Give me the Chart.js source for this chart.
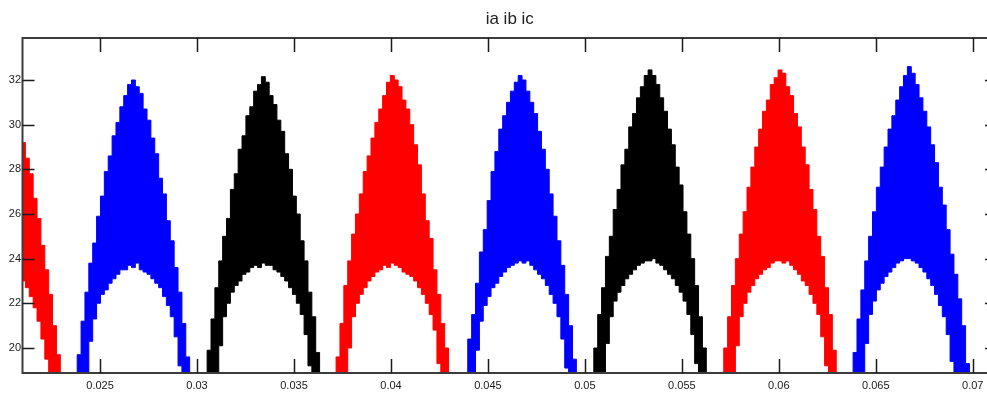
<!DOCTYPE html>
<html>
<head>
<meta charset="utf-8">
<script src="https://cdn.jsdelivr.net/npm/chart.js@4.4.1/dist/chart.umd.min.js"></script>
<style>
  html, body { margin: 0; padding: 0; overflow: hidden; background: #fff; }
  canvas { display: block; }
</style>
</head>
<body>
<canvas id="chart" width="1000" height="394"></canvas>
<script>
// tooth positions relative to the centre of each current lobe (s)
const toothOffsets = [
  -0.0032, -0.0030, -0.0028, -0.0026, -0.0024, -0.0022, -0.0020, -0.0018,
  -0.0016, -0.0014, -0.0012, -0.0010, -0.0008, -0.0006, -0.0004, -0.0002,
  0,
  0.0002, 0.0004, 0.0006, 0.0008, 0.0010, 0.0012, 0.0014, 0.0016,
  0.0018, 0.0020, 0.0022, 0.0024, 0.0026, 0.0028, 0.0030, 0.0032
];

const lobeCentres = [0.02005, 0.02672, 0.03342, 0.04007, 0.04666, 0.05336, 0.06006, 0.06673];
const lobePhase = [0, 1, 2, 0, 1, 2, 0, 1];
const phaseNames = ['ia', 'ib', 'ic'];
const phaseColours = ['#ff0000', '#0000ff', '#000000'];

const xTicks = [0.025, 0.03, 0.035, 0.04, 0.045, 0.05, 0.055, 0.06, 0.065, 0.07];
const yTicks = [20, 22, 24, 26, 28, 30, 32];

// ripple peaks (top edge of each lobe); first lobe only partly visible
const upperValues = [
  [29.8, 29.2, 28.5, 27.8, 26.7, 25.8, 24.6, 23.5, 22.4, 21.0, 19.7, 18.6, 17.0],
  [17.0, 18.5, 19.7, 21.2, 22.5, 23.8, 24.7, 25.9, 26.8, 27.9, 28.6, 29.5, 30.1, 30.8, 31.3, 31.8, 32.0,
   31.7, 31.4, 30.7, 30.2, 29.4, 28.7, 27.6, 26.9, 25.7, 24.8, 23.6, 22.5, 21.1, 19.6, 18.4, 17.0],
  [17.0, 18.6, 19.9, 21.3, 22.7, 23.9, 25.0, 25.8, 27.1, 27.8, 28.9, 29.5, 30.4, 30.8, 31.5, 31.8, 32.15,
   31.9, 31.3, 30.9, 30.2, 29.7, 28.7, 28.0, 26.8, 26.0, 24.8, 23.9, 22.5, 21.4, 19.8, 18.7, 17.0],
  [16.5, 17.9, 19.6, 21.1, 22.8, 23.9, 25.1, 26.0, 26.9, 27.9, 28.6, 29.4, 30.1, 30.7, 31.3, 31.9, 32.2,
   32.0, 31.7, 31.1, 30.7, 30.0, 29.1, 28.2, 26.9, 25.7, 24.9, 23.5, 22.4, 21.1, 20.0, 18.9, 17.3],
  [16.0, 17.4, 18.6, 20.4, 21.5, 22.9, 24.3, 25.3, 26.6, 27.9, 28.8, 29.8, 30.4, 31.0, 31.5, 31.9, 32.2,
   32.0, 31.5, 31.0, 30.5, 29.7, 28.9, 28.0, 26.9, 25.9, 24.8, 23.7, 22.4, 21.0, 19.5, 18.2, 16.8],
  [17.2, 18.7, 20.0, 21.5, 22.7, 24.1, 25.0, 26.2, 27.1, 28.2, 28.9, 29.9, 30.5, 31.2, 31.7, 32.2, 32.45,
   32.2, 31.8, 31.2, 30.6, 29.8, 29.1, 28.1, 27.3, 26.1, 25.1, 24.0, 22.8, 21.4, 20.0, 18.8, 17.2],
  [17.1, 18.6, 20.0, 21.4, 22.8, 24.0, 25.1, 26.1, 27.2, 28.1, 29.0, 29.8, 30.6, 31.1, 31.8, 32.1, 32.45,
   32.3, 31.7, 31.3, 30.5, 29.9, 29.0, 28.2, 27.1, 26.2, 25.0, 24.1, 22.7, 21.5, 19.9, 18.7, 17.1],
  [17.0, 18.5, 19.8, 21.3, 22.6, 23.9, 25.0, 26.1, 27.2, 28.1, 29.0, 29.8, 30.4, 31.1, 31.7, 32.2, 32.6,
   32.3, 31.8, 31.2, 30.6, 29.9, 29.1, 28.3, 27.2, 26.4, 25.3, 24.2, 23.3, 22.2, 21.0, 19.3, 17.9]
];

// ripple troughs (inner arch of each lobe); 16 = below the visible axis
const lowerValues = [
  [23.2, 23.0, 22.7, 22.3, 21.8, 21.2, 20.4, 19.5, 16, 16, 16, 16, 16],
  [16, 16, 16, 16, 16, 20.3, 21.3, 22.0, 22.4, 22.6, 22.9, 23.1, 23.3, 23.5, 23.5, 23.7, 23.6,
   23.8, 23.5, 23.4, 23.3, 23.1, 22.9, 22.7, 22.3, 21.9, 21.4, 20.5, 19.2, 16, 16, 16, 16],
  [16, 16, 16, 16, 16, 20.1, 21.4, 22.0, 22.5, 22.8, 23.0, 23.3, 23.4, 23.6, 23.7, 23.6, 23.8,
   23.7, 23.7, 23.5, 23.4, 23.2, 23.0, 22.7, 22.4, 22.0, 21.5, 20.6, 19.2, 16, 16, 16, 16],
  [16, 16, 16, 16, 16, 20.0, 21.4, 22.0, 22.4, 22.7, 23.0, 23.2, 23.4, 23.5, 23.7, 23.6, 23.8,
   23.7, 23.6, 23.4, 23.3, 23.2, 23.0, 22.7, 22.4, 22.0, 21.5, 20.8, 19.3, 16, 16, 16, 16],
  [16, 16, 16, 16, 16, 19.9, 21.2, 21.9, 22.3, 22.7, 22.9, 23.2, 23.4, 23.6, 23.7, 23.8, 23.9,
   23.8, 23.9, 23.7, 23.5, 23.3, 23.1, 22.8, 22.4, 22.0, 21.4, 20.4, 19.1, 16, 16, 16, 16],
  [16, 16, 16, 16, 16, 20.2, 21.4, 22.1, 22.5, 22.8, 23.1, 23.3, 23.5, 23.7, 23.8, 23.9, 23.9,
   24.0, 23.8, 23.7, 23.5, 23.3, 23.1, 22.8, 22.5, 22.1, 21.5, 20.6, 19.3, 16, 16, 16, 16],
  [16, 16, 16, 16, 16, 20.1, 21.4, 22.0, 22.5, 22.8, 23.1, 23.3, 23.5, 23.6, 23.8, 23.9, 23.9,
   23.8, 23.9, 23.7, 23.5, 23.3, 23.0, 22.8, 22.4, 22.0, 21.5, 20.5, 19.2, 16, 16, 16, 16],
  [16, 16, 16, 16, 16, 20.2, 21.5, 22.1, 22.6, 22.9, 23.2, 23.4, 23.6, 23.8, 23.9, 24.0, 24.0,
   23.9, 23.8, 23.6, 23.4, 23.1, 22.8, 22.4, 21.9, 21.4, 20.6, 19.4, 16, 16, 16, 16, 16]
];

const tickFont = { family: "'Liberation Sans', Arial, sans-serif", size: 11 };

// build one pair of datasets per lobe: peaks, then troughs filled up to the peaks
const datasets = [];
lobeCentres.forEach((centre, i) => {
  const up = upperValues[i];
  const lo = lowerValues[i];
  const offs = toothOffsets.slice(toothOffsets.length - up.length);
  const colour = phaseColours[lobePhase[i]];
  const name = phaseNames[lobePhase[i]];
  datasets.push({
    label: name,
    data: up.map((v, j) => ({ x: centre + offs[j], y: v })),
    borderColor: colour, backgroundColor: colour,
    borderWidth: 1, pointRadius: 0, stepped: 'middle', fill: false
  });
  datasets.push({
    label: name,
    data: lo.map((v, j) => ({ x: centre + offs[j], y: v })),
    borderColor: colour, backgroundColor: colour,
    borderWidth: 1, pointRadius: 0, stepped: 'middle', fill: '-1'
  });
});

// matlab style box with inward ticks on all four sides
const boxPlugin = {
  id: 'box',
  afterDatasetsDraw(chart) {
    const { ctx, chartArea: a, scales: { x, y } } = chart;
    ctx.save();
    ctx.strokeStyle = '#3c3c3c';
    ctx.lineWidth = 2;
    ctx.strokeRect(a.left, a.top, a.right - a.left, a.bottom - a.top);
    ctx.strokeStyle = '#1a1a1a';
    ctx.lineWidth = 1.5;
    ctx.beginPath();
    xTicks.forEach(v => {
      const px = Math.round(x.getPixelForValue(v)) + 0.5;
      ctx.moveTo(px, a.bottom); ctx.lineTo(px, a.bottom - 14);
      ctx.moveTo(px, a.top); ctx.lineTo(px, a.top + 14);
    });
    yTicks.forEach(v => {
      const py = Math.round(y.getPixelForValue(v)) + 0.5;
      ctx.moveTo(a.left, py); ctx.lineTo(a.left + 12, py);
      ctx.moveTo(a.right, py); ctx.lineTo(a.right - 12, py);
    });
    ctx.stroke();
    ctx.restore();
  }
};

new Chart(document.getElementById('chart'), {
  type: 'line',
  data: { datasets: datasets },
  options: {
    responsive: false,
    animation: false,
    devicePixelRatio: 1,
    layout: { padding: { left: 0, right: 3, top: 0, bottom: 0 } },
    elements: { line: { tension: 0 } },
    plugins: {
      legend: { display: false },
      tooltip: { enabled: false },
      title: {
        display: true,
        text: 'ia ib ic',
        fullSize: false,
        color: '#222',
        font: { family: "'Liberation Sans', Arial, sans-serif", size: 17, weight: 'normal' },
        padding: { top: 9, bottom: 8.6 }
      }
    },
    scales: {
      x: {
        type: 'linear',
        min: 0.021,
        max: 0.07125,
        afterBuildTicks: s => { s.ticks = xTicks.map(v => ({ value: v })); },
        afterFit: s => { s.height = 21; },
        grid: { display: false, drawTicks: false },
        border: { display: false },
        ticks: { padding: 6, color: '#1a1a1a', font: tickFont, maxRotation: 0, autoSkip: false,
                 callback: v => String(v) }
      },
      y: {
        type: 'linear',
        min: 18.88,
        max: 33.88,
        afterBuildTicks: s => { s.ticks = yTicks.map(v => ({ value: v })); },
        afterFit: s => { s.width = 22.5; },
        grid: { display: false, drawTicks: false },
        border: { display: false },
        ticks: { padding: 1.5, color: '#1a1a1a', font: tickFont, autoSkip: false,
                 callback: v => String(v) }
      }
    }
  },
  plugins: [boxPlugin]
});
</script>
</body>
</html>
